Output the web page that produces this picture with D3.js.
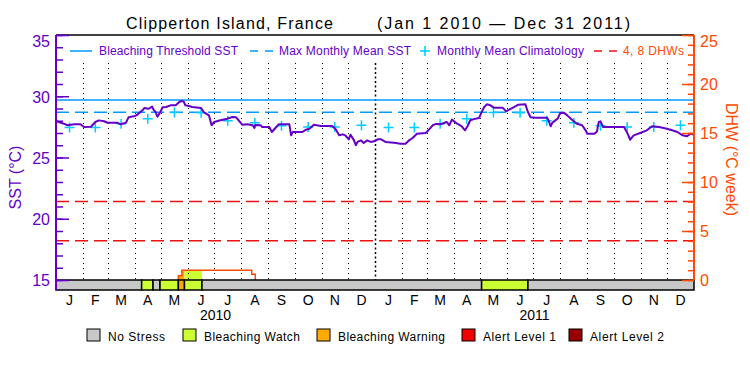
<!DOCTYPE html>
<html>
<head>
<meta charset="utf-8">
<script src="https://cdn.jsdelivr.net/npm/d3@7"></script>
<style>
  body { margin: 0; background: #fff; }
  text { font-family: "Liberation Sans", Arial, sans-serif; }
</style>
</head>
<body>
<div id="chart"></div>
<script>
// Data (days counted from Jan 1 2010)
const sstDays = [0,9,13,17,21,28,32,40,45,49,55,59,70,74,80,83,89,92,99,101,106,110,112,114,116,119,122,126,131,137,141,143,146,148,152,156,166,169,175,178,181,188,196,202,206,209,213,219,225,227,228,234,236,244,247,251,255,267,269,271,282,286,290,295,303,316,320,324,328,331,335,337,341,343,345,349,352,356,360,364,368,372,377,387,394,400,404,408,413,423,427,431,435,440,447,450,453,459,464,468,471,474,480,484,487,490,493,497,501,511,515,519,524,529,537,540,543,549,562,564,566,568,574,577,581,585,591,596,602,606,608,616,619,621,623,626,650,654,657,661,669,676,682,690,699,705,711,717,722,726,730];
const sstValues = [27.98,27.76,27.63,27.68,27.71,27.71,27.49,27.51,27.90,28.03,27.96,27.84,27.84,27.71,27.84,28.28,28.36,28.44,28.85,29.04,28.98,29.15,28.85,28.71,28.33,28.66,29.10,29.12,29.26,29.26,29.53,29.61,29.58,29.26,29.20,29.12,29.04,28.71,28.44,27.63,27.90,28.04,28.17,28.31,28.28,28.04,27.68,27.71,27.63,27.41,27.65,27.63,27.49,27.49,27.08,27.41,27.71,27.71,26.81,27.08,27.08,27.27,27.35,27.68,27.57,27.57,27.30,26.81,26.89,26.81,26.48,26.86,26.40,26.00,26.27,26.40,26.18,26.40,26.27,26.32,26.48,26.48,26.27,26.21,26.13,26.13,26.40,26.59,26.94,27.00,27.30,27.63,27.74,27.71,27.90,27.63,28.09,27.76,27.57,27.22,27.57,28.04,28.17,28.22,28.71,29.12,29.34,29.26,29.07,29.07,28.77,28.93,29.12,29.31,29.34,28.71,28.28,28.25,28.25,27.95,27.55,27.85,28.17,28.63,28.66,28.44,28.04,27.76,27.63,27.22,26.94,26.94,27.13,27.90,27.95,27.49,27.49,26.95,26.45,26.81,27.02,27.22,27.55,27.49,27.35,27.22,27.08,26.81,26.73,26.95,26.86];

const climValues = [27.45,27.45,27.76,28.17,28.67,28.66,28.0,27.84,27.6,27.49,27.49,27.63];
const mmmSst = 28.69;
const thresholdSst = 29.69;
const dhwLevels = [4, 8];

const dhwDays = [140, 140, 144, 224, 228];
const dhwValues = [0, 0.44, 0.99, 0.58, 0];

const stressStart = [0, 98, 111, 119, 140, 147, 167, 487, 540];
const stressEnd = [98, 111, 119, 140, 147, 167, 487, 540, 730];
const stressLevel = [0, 1, 0, 1, 2, 1, 0, 1, 0];

const monthLabels = ["J","F","M","A","M","J","J","A","S","O","N","D"];
const yearLabels = ["2010", "2011"];
const sstTicks = [15, 20, 25, 30, 35];
const dhwTicks = [0, 5, 10, 15, 20, 25];
const stressNames = ["No Stress", "Bleaching Watch", "Bleaching Warning", "Alert Level 1", "Alert Level 2"];
const stressColors = ["#c8c8c8", "#ccff33", "#ffaa00", "#ee0000", "#960000"];

// Layout
const width = 750;
const height = 375;
const plotL = 56, plotR = 694, plotT = 35, plotB = 280, barB = 290;

const purple = "#6400c8";
const orange = "#ff4a00";
const blue = "#0099ff";
const cyan = "#00ccff";
const red = "#ee1111";

const start = new Date(2010, 0, 1);
const day = d => d3.timeDay.offset(start, d);

const x = d3.scaleTime()
  .domain([start, new Date(2012, 0, 1)])
  .range([plotL, plotR]);
const ySst = d3.scaleLinear().domain([15, 35]).range([plotB, plotT]);
const yDhw = d3.scaleLinear().domain([0, 25]).range([plotB, plotT]);

const svg = d3.select("#chart")
  .append("svg")
  .attr("width", width)
  .attr("height", height);

svg.append("rect").attr("width", width).attr("height", height).attr("fill", "#fff");

// title
svg.append("text")
  .attr("x", 126).attr("y", 29)
  .attr("font-size", 16)
  .attr("textLength", 207)
  .text("Clipperton Island, France");
svg.append("text")
  .attr("x", 377).attr("y", 29)
  .attr("font-size", 16)
  .attr("textLength", 253)
  .text("(Jan 1 2010 \u2014 Dec 31 2011)");

// DHW fill, coloured by stress level
const dhwPts = dhwDays.map((d, i) => [day(d), dhwValues[i]]);
const dhwArea = d3.area()
  .curve(d3.curveStepAfter)
  .x(d => x(d[0]))
  .y0(plotB)
  .y1(d => yDhw(d[1]));

const defs = svg.append("defs");
stressStart.forEach((s, i) => {
  if (stressLevel[i] === 0) return;
  defs.append("clipPath").attr("id", "seg" + i)
    .append("rect")
    .attr("x", x(day(s))).attr("y", plotT)
    .attr("width", x(day(stressEnd[i])) - x(day(s)))
    .attr("height", plotB - plotT);
  svg.append("path")
    .datum(dhwPts)
    .attr("d", dhwArea)
    .attr("fill", stressColors[stressLevel[i]])
    .attr("clip-path", `url(#seg${i})`);
});

// month grid lines
const months = d3.timeMonth.range(new Date(2010, 1, 1), new Date(2012, 0, 1));
svg.append("g")
  .selectAll("line")
  .data(months)
  .join("line")
  .attr("x1", d => Math.round(x(d)) + 0.5)
  .attr("x2", d => Math.round(x(d)) + 0.5)
  .attr("y1", 63)
  .attr("y2", plotB)
  .attr("stroke", "#000")
  .attr("stroke-width", d => d.getMonth() === 0 ? 1.5 : 1)
  .attr("stroke-dasharray", d => d.getMonth() === 0 ? "2,2.5" : "1,4");

// DHW reference lines
svg.append("g")
  .selectAll("line")
  .data(dhwLevels)
  .join("line")
  .attr("x1", plotL).attr("x2", plotR)
  .attr("y1", d => yDhw(d)).attr("y2", d => yDhw(d))
  .attr("stroke", red)
  .attr("stroke-width", 1.5)
  .attr("stroke-dasharray", "13,6");

// threshold + MMM
svg.append("line")
  .attr("x1", plotL).attr("x2", plotR)
  .attr("y1", ySst(thresholdSst)).attr("y2", ySst(thresholdSst))
  .attr("stroke", blue).attr("stroke-width", 1.5);
svg.append("line")
  .attr("x1", plotL).attr("x2", plotR)
  .attr("y1", ySst(mmmSst)).attr("y2", ySst(mmmSst))
  .attr("stroke", blue).attr("stroke-width", 1.5)
  .attr("stroke-dasharray", "13,6");

// DHW outline
svg.append("path")
  .datum(dhwPts)
  .attr("d", d3.line().curve(d3.curveStepAfter).x(d => x(d[0])).y(d => yDhw(d[1])))
  .attr("fill", "none")
  .attr("stroke", orange)
  .attr("stroke-width", 1.5);

// climatology crosses at mid-month
const allMonths = d3.timeMonth.range(start, new Date(2012, 0, 1));
const mid = m => (x(m) + x(d3.timeMonth.offset(m, 1))) / 2;
svg.append("g")
  .selectAll("path")
  .data(allMonths)
  .join("path")
  .attr("d", m => {
    const cx = mid(m), cy = ySst(climValues[m.getMonth()]);
    return `M${cx - 5},${cy}H${cx + 5}M${cx},${cy - 5}V${cy + 5}`;
  })
  .attr("stroke", cyan)
  .attr("stroke-width", 1.5);

// SST line
svg.append("path")
  .datum(sstDays.map((d, i) => [day(d), sstValues[i]]))
  .attr("d", d3.line().x(d => x(d[0])).y(d => ySst(d[1])))
  .attr("fill", "none")
  .attr("stroke", purple)
  .attr("stroke-width", 2)
  .attr("stroke-linejoin", "round");

// stress bar
svg.append("g")
  .selectAll("rect")
  .data(stressStart)
  .join("rect")
  .attr("x", d => x(day(d)))
  .attr("y", plotB)
  .attr("width", (d, i) => x(day(stressEnd[i])) - x(day(d)))
  .attr("height", barB - plotB)
  .attr("fill", (d, i) => stressColors[stressLevel[i]])
  .attr("stroke", "#000")
  .attr("stroke-width", 1.5);

// frame
svg.append("line")
  .attr("x1", plotL).attr("x2", plotR).attr("y1", plotT).attr("y2", plotT)
  .attr("stroke", "#000").attr("stroke-width", 1.5);

// left axis
const minorL = d3.axisLeft(ySst).tickValues(d3.range(15, 36)).tickSizeInner(-7).tickSizeOuter(0).tickFormat("");
const majorL = d3.axisLeft(ySst).tickValues(sstTicks).tickSizeInner(-13).tickSizeOuter(0).tickPadding(6);
[minorL, majorL].forEach(ax => {
  const g = svg.append("g").attr("transform", `translate(${plotL},0)`).call(ax);
  g.select(".domain").remove();
  g.selectAll("line").attr("stroke", purple).attr("stroke-width", 1.5);
  g.selectAll("text").attr("fill", purple).attr("font-size", 16)
    .attr("font-family", "Liberation Sans, Arial, sans-serif")
    .attr("dy", d => d === 35 ? "0.7em" : "0.36em");
});
svg.append("line")
  .attr("x1", plotL).attr("x2", plotL).attr("y1", plotT).attr("y2", barB)
  .attr("stroke", purple).attr("stroke-width", 2);
svg.append("text")
  .attr("transform", `translate(21,${(plotT + plotB) / 2 + 20}) rotate(-90)`)
  .attr("text-anchor", "middle")
  .attr("fill", purple)
  .attr("font-size", 16)
  .text("SST (\u00b0C)");

// right axis
const minorR = d3.axisRight(yDhw).tickValues(d3.range(0, 26)).tickSizeInner(-6).tickSizeOuter(0).tickFormat("");
const majorR = d3.axisRight(yDhw).tickValues(dhwTicks).tickSizeInner(-12).tickSizeOuter(0).tickPadding(6);
[minorR, majorR].forEach(ax => {
  const g = svg.append("g").attr("transform", `translate(${plotR},0)`).call(ax);
  g.select(".domain").remove();
  g.selectAll("line").attr("stroke", orange).attr("stroke-width", 1.5);
  g.selectAll("text").attr("fill", orange).attr("font-size", 16)
    .attr("font-family", "Liberation Sans, Arial, sans-serif")
    .attr("dy", d => d === 25 ? "0.7em" : "0.36em");
});
svg.append("line")
  .attr("x1", plotR).attr("x2", plotR).attr("y1", plotT).attr("y2", plotB)
  .attr("stroke", orange).attr("stroke-width", 2);
svg.append("text")
  .attr("transform", `translate(726,${(plotT + plotB) / 2 + 2}) rotate(90)`)
  .attr("text-anchor", "middle")
  .attr("fill", orange)
  .attr("font-size", 16)
  .text("DHW (\u00b0C week)");

// month + year labels
svg.append("g")
  .selectAll("text")
  .data(allMonths)
  .join("text")
  .attr("x", m => mid(m))
  .attr("y", 305)
  .attr("text-anchor", "middle")
  .attr("font-size", 14)
  .text(m => monthLabels[m.getMonth()]);
svg.append("g")
  .selectAll("text")
  .data(yearLabels)
  .join("text")
  .attr("x", (d, i) => (x(new Date(2010 + i, 0, 1)) + x(new Date(2011 + i, 0, 1))) / 2)
  .attr("y", 320)
  .attr("text-anchor", "middle")
  .attr("font-size", 14)
  .text(d => d);

// top legend
const lg = svg.append("g").attr("font-size", 12);
lg.append("line").attr("x1", 70).attr("x2", 92).attr("y1", 51).attr("y2", 51)
  .attr("stroke", blue).attr("stroke-width", 1.5);
lg.append("text").attr("x", 99).attr("y", 55).attr("fill", purple).attr("textLength", 139).text("Bleaching Threshold SST");
lg.append("line").attr("x1", 250).attr("x2", 273).attr("y1", 51).attr("y2", 51)
  .attr("stroke", blue).attr("stroke-width", 1.5).attr("stroke-dasharray", "8,7");
lg.append("text").attr("x", 279).attr("y", 55).attr("fill", purple).attr("textLength", 132).text("Max Monthly Mean SST");
lg.append("path").attr("d", "M420,51H430M425,46V56").attr("stroke", cyan).attr("stroke-width", 1.5);
lg.append("text").attr("x", 437).attr("y", 55).attr("fill", purple).attr("textLength", 147).text("Monthly Mean Climatology");
lg.append("line").attr("x1", 594).attr("x2", 617).attr("y1", 51).attr("y2", 51)
  .attr("stroke", red).attr("stroke-width", 1.5).attr("stroke-dasharray", "8,7");
lg.append("text").attr("x", 623).attr("y", 55).attr("fill", orange).attr("textLength", 61).text("4, 8 DHWs");

// bottom legend
const legendX = [87, 183, 317, 462, 569];
const legendTextW = [57, 96, 107, 73, 74];
const bl = svg.append("g").selectAll("g")
  .data(stressNames)
  .join("g")
  .attr("transform", (d, i) => `translate(${legendX[i]},329)`);
bl.append("rect")
  .attr("width", 13).attr("height", 12)
  .attr("fill", (d, i) => stressColors[i])
  .attr("stroke", "#000").attr("stroke-width", 1);
bl.append("text")
  .attr("x", 21).attr("y", 12)
  .attr("font-size", 12)
  .attr("textLength", (d, i) => legendTextW[i])
  .text(d => d);
</script>
</body>
</html>
